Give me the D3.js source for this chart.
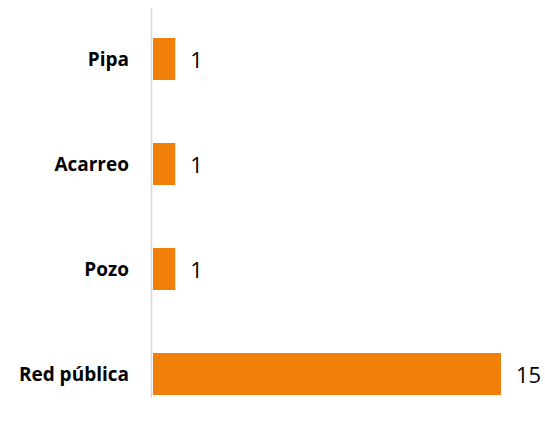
<!DOCTYPE html>
<html>
<head>
<meta charset="utf-8">
<script src="https://cdn.jsdelivr.net/npm/d3@7"></script>
<style>
    body { margin: 0; background: #fff; }
    svg { display: block; }
</style>
</head>
<body>
<svg width="545" height="423"></svg>
<script>
const categories = ['Pipa', 'Acarreo', 'Pozo', 'Red pública'];
const values = [1, 1, 1, 15];

const svg = d3.select('svg');

const x = d3.scaleLinear()
    .domain([0, 15])
    .range([152, 501]);

const y = d3.scaleBand()
    .domain(categories)
    .range([17, 416])
    .paddingInner(0.6)
    .paddingOuter(0.2);

// vertical axis line
svg.append('line')
    .attr('x1', 151.5).attr('x2', 151.5)
    .attr('y1', 8).attr('y2', 398)
    .attr('stroke', '#d9d9d9')
    .attr('stroke-width', 1.5);

svg.append('g')
    .selectAll('rect')
    .data(categories)
    .enter().append('rect')
    .attr('x', x(0) + 1)
    .attr('y', function (d) { return y(d); })
    .attr('width', function (d, i) { return x(values[i]) - x(0) - 1; })
    .attr('height', y.bandwidth())
    .attr('fill', '#f0800a');

svg.append('g')
    .selectAll('text')
    .data(categories)
    .enter().append('text')
    .attr('x', 129)
    .attr('y', function (d) { return y(d) + y.bandwidth() / 2; })
    .attr('text-anchor', 'end')
    .attr('dominant-baseline', 'central')
    .style('font-family', 'Open Sans, sans-serif')
    .style('font-weight', 'bold')
    .style('font-size', '19px')
    .style('fill', '#000')
    .text(function (d) { return d; });

svg.append('g')
    .selectAll('text')
    .data(categories)
    .enter().append('text')
    .attr('x', function (d, i) { return x(values[i]) + 15; })
    .attr('y', function (d) { return y(d) + y.bandwidth() / 2; })
    .attr('dominant-baseline', 'central')
    .style('font-family', 'Open Sans, sans-serif')
    .style('font-size', '22px')
    .style('fill', '#000')
    .text(function (d, i) { return values[i]; });
</script>
</body>
</html>
